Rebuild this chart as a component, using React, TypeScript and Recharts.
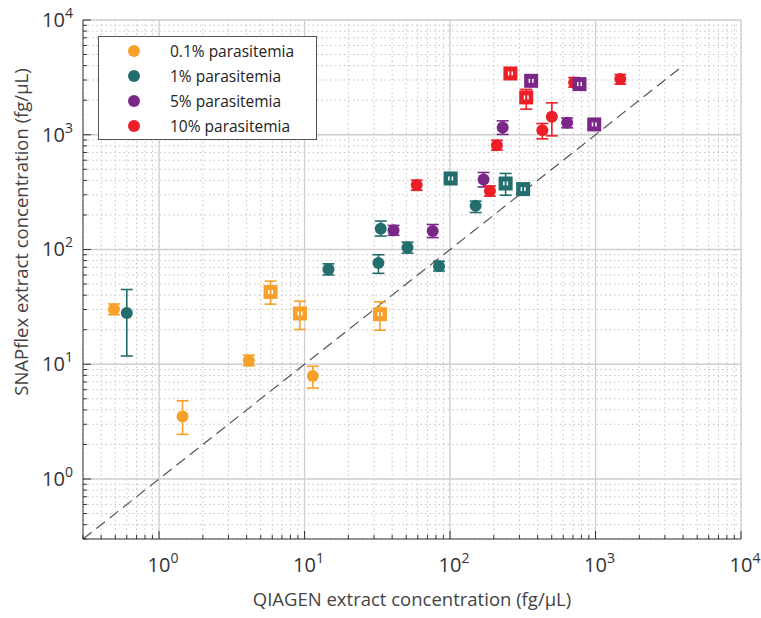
import React from 'react'
import {
  ScatterChart, Scatter, XAxis, YAxis, CartesianGrid, ReferenceLine, ErrorBar, Legend
} from 'recharts'

type Pt = { x: number; y: number; lo: number; hi: number }

const ORANGE = '#F7A12C'
const TEAL = '#236E6C'
const PURPLE = '#7A2787'
const RED = '#EC1E27'

// x = QIAGEN, y = SNAPflex, lo/hi = error bar ends
const orangeCircles: Pt[] = [
  { x: 0.49, y: 30.2, lo: 27, hi: 33.5 },
  { x: 1.45, y: 3.5, lo: 2.45, hi: 4.8 },
  { x: 4.14, y: 10.8, lo: 9.7, hi: 12 },
  { x: 11.4, y: 7.9, lo: 6.2, hi: 9.6 },
]
const orangeSquares: Pt[] = [
  { x: 5.84, y: 42.7, lo: 33.4, hi: 53 },
  { x: 9.3, y: 27.7, lo: 20.1, hi: 35.4 },
  { x: 33, y: 27.3, lo: 19.8, hi: 35 },
]
const tealCircles: Pt[] = [
  { x: 0.6, y: 28, lo: 11.8, hi: 44.8 },
  { x: 14.6, y: 67.3, lo: 60, hi: 75 },
  { x: 33.4, y: 152, lo: 131, hi: 177 },
  { x: 32.2, y: 76.4, lo: 62, hi: 90 },
  { x: 51, y: 104, lo: 93, hi: 116 },
  { x: 84, y: 71.5, lo: 65, hi: 79 },
  { x: 150, y: 240, lo: 210, hi: 264 },
]
const tealSquares: Pt[] = [
  { x: 101, y: 416, lo: 370, hi: 460 },
  { x: 241, y: 376, lo: 297, hi: 460 },
  { x: 318, y: 336, lo: 300, hi: 375 },
]
const purpleCircles: Pt[] = [
  { x: 40.9, y: 147, lo: 133, hi: 162 },
  { x: 76, y: 145, lo: 127, hi: 165 },
  { x: 170, y: 408, lo: 351, hi: 469 },
  { x: 230, y: 1158, lo: 1007, hi: 1321 },
  { x: 638, y: 1270, lo: 1150, hi: 1400 },
]
const purpleSquares: Pt[] = [
  { x: 361, y: 2951, lo: 2650, hi: 3300 },
  { x: 776, y: 2761, lo: 2500, hi: 3050 },
  { x: 980, y: 1230, lo: 1100, hi: 1370 },
]
const redCircles: Pt[] = [
  { x: 59, y: 364, lo: 328, hi: 402 },
  { x: 188, y: 324, lo: 292, hi: 358 },
  { x: 210, y: 811, lo: 735, hi: 895 },
  { x: 431, y: 1097, lo: 921, hi: 1254 },
  { x: 501, y: 1432, lo: 978, hi: 1897 },
  { x: 713, y: 2858, lo: 2600, hi: 3150 },
  { x: 1480, y: 3054, lo: 2760, hi: 3350 },
]
const redSquares: Pt[] = [
  { x: 260, y: 3420, lo: 3100, hi: 3750 },
  { x: 334, y: 2115, lo: 1672, hi: 2485 },
]

const SERIES = [
  { name: '0.1% parasitemia', color: ORANGE, circles: orangeCircles, squares: orangeSquares },
  { name: '1% parasitemia', color: TEAL, circles: tealCircles, squares: tealSquares },
  { name: '5% parasitemia', color: PURPLE, circles: purpleCircles, squares: purpleSquares },
  { name: '10% parasitemia', color: RED, circles: redCircles, squares: redSquares },
]

const DOMAIN: [number, number] = [0.3, 10000]
const MAJOR = [1, 10, 100, 1000, 10000]
const MINOR_MULT = [2, 3, 4, 5, 6, 7, 8, 9]
const MINOR = [0.3, 0.4, 0.5, 0.6, 0.7, 0.8, 0.9].concat(
  ...[1, 10, 100, 1000].map(d => MINOR_MULT.map(m => m * d))
)
const TICKS = [...MINOR, ...MAJOR].sort((a, b) => a - b)
const DIAG = [0.3, 4000]

const FONT = '"Open Sans", "Noto Sans", sans-serif'

const isMajor = (v: number) => Math.abs(Math.log10(v) - Math.round(Math.log10(v))) < 1e-6

const withErr = (pts: Pt[]) => pts.map(p => ({ x: p.x, y: p.y, err: [p.y - p.lo, p.hi - p.y] }))

const circleShape = (color: string) => (p: any) => (
  <circle cx={p.cx} cy={p.cy} r={6} fill={color} />
)
const squareShape = (color: string) => (p: any) => (
  <g>
    <rect x={p.cx - 7} y={p.cy - 7} width={14} height={14} fill={color} />
    <rect x={p.cx - 2.5} y={p.cy - 2} width={1.5} height={4} fill="#fff" />
    <rect x={p.cx + 1} y={p.cy - 2} width={1.5} height={4} fill="#fff" />
  </g>
)

const XTick = (props: any) => {
  const { x, y, payload } = props
  const v = payload.value
  const major = isMajor(v)
  return (
    <g>
      <line x1={x} x2={x} y1={y} y2={y - (major ? 8 : 4)} stroke="#333" />
      {major && (
        <text x={x + 4} y={y + 33} textAnchor="middle" fontSize={20} fill="#333" fontFamily={FONT}>
          10<tspan dy={-9} fontSize={14}>{Math.round(Math.log10(v))}</tspan>
        </text>
      )}
    </g>
  )
}

const YTick = (props: any) => {
  const { x, y, payload } = props
  const v = payload.value
  const major = isMajor(v)
  return (
    <g>
      <line x1={x} x2={x + (major ? 8 : 4)} y1={y} y2={y} stroke="#333" />
      {major && (
        <text x={x - 10} y={y + 7} textAnchor="end" fontSize={20} fill="#333" fontFamily={FONT}>
          10<tspan dy={-9} fontSize={14}>{Math.round(Math.log10(v))}</tspan>
        </text>
      )}
    </g>
  )
}

const LegendBox = () => (
  <div style={{
    border: '1.5px solid #555', background: '#fff', height: '100%', boxSizing: 'border-box',
    padding: '2px 0 0 29px', fontFamily: FONT, fontSize: 15.5, color: '#222'
  }}>
    {SERIES.map(s => (
      <div key={s.name} style={{ display: 'flex', alignItems: 'center', height: 24.8 }}>
        <span style={{ width: 12, height: 12, borderRadius: 6, background: s.color, marginRight: 30 }} />
        {s.name}
      </div>
    ))}
  </div>
)

export default function App() {
  return (
    <div style={{ position: 'absolute', left: 0, top: 0, background: '#fff' }}>
      <ScatterChart width={761} height={618} margin={{ top: 20, right: 20, bottom: 0, left: 0 }}>
        <CartesianGrid stroke="#c4c4c4" strokeDasharray="1.5 3" />
        {MAJOR.map(v => (
          <ReferenceLine key={'vx' + v} x={v} stroke="#cfcfcf" strokeWidth={1.3} />
        ))}
        {MAJOR.map(v => (
          <ReferenceLine key={'hy' + v} y={v} stroke="#cfcfcf" strokeWidth={1.3} />
        ))}
        <XAxis
          type="number" dataKey="x" scale="log" domain={DOMAIN} ticks={TICKS} allowDataOverflow
          height={79} tickSize={0} tickMargin={0} tickLine={false} tick={<XTick />} interval={0}
          stroke="#333"
          label={{ value: 'QIAGEN extract concentration (fg/µL)', position: 'insideBottom', offset: 12, fontSize: 18.5, fill: '#444', fontFamily: FONT }}
        />
        <YAxis
          type="number" dataKey="y" scale="log" domain={DOMAIN} ticks={TICKS} allowDataOverflow
          width={83} tickSize={0} tickMargin={0} tickLine={false} tick={<YTick />} interval={0}
          stroke="#333"
          label={{
            content: () => (
              <text x={0} y={0} transform="translate(28,232) rotate(-90)" textAnchor="middle"
                fontSize={18.5} fill="#444" fontFamily={FONT}>SNAPflex extract concentration (fg/µL)</text>
            )
          }}
        />
        <ReferenceLine
          segment={[{ x: DIAG[0], y: DIAG[0] }, { x: DIAG[1], y: DIAG[1] }]}
          stroke="#555" strokeWidth={1.2} strokeDasharray="11 6"
        />
        {SERIES.map(s => (
          <Scatter key={s.name + 'c'} name={s.name} data={withErr(s.circles)} fill={s.color}
            shape={circleShape(s.color)} isAnimationActive={false}>
            <ErrorBar dataKey="err" direction="y" width={6} stroke={s.color} strokeWidth={1.6} />
          </Scatter>
        ))}
        {SERIES.map(s => (
          <Scatter key={s.name + 's'} name={s.name + ' '} data={withErr(s.squares)} fill={s.color}
            shape={squareShape(s.color)} isAnimationActive={false}>
            <ErrorBar dataKey="err" direction="y" width={6} stroke={s.color} strokeWidth={1.6} />
          </Scatter>
        ))}
        <Legend
          layout="horizontal" verticalAlign="middle" align="center"
          wrapperStyle={{ position: 'absolute', left: 98, top: 36, width: 219, height: 104 }}
          content={() => <LegendBox />}
        />
      </ScatterChart>
    </div>
  )
}
